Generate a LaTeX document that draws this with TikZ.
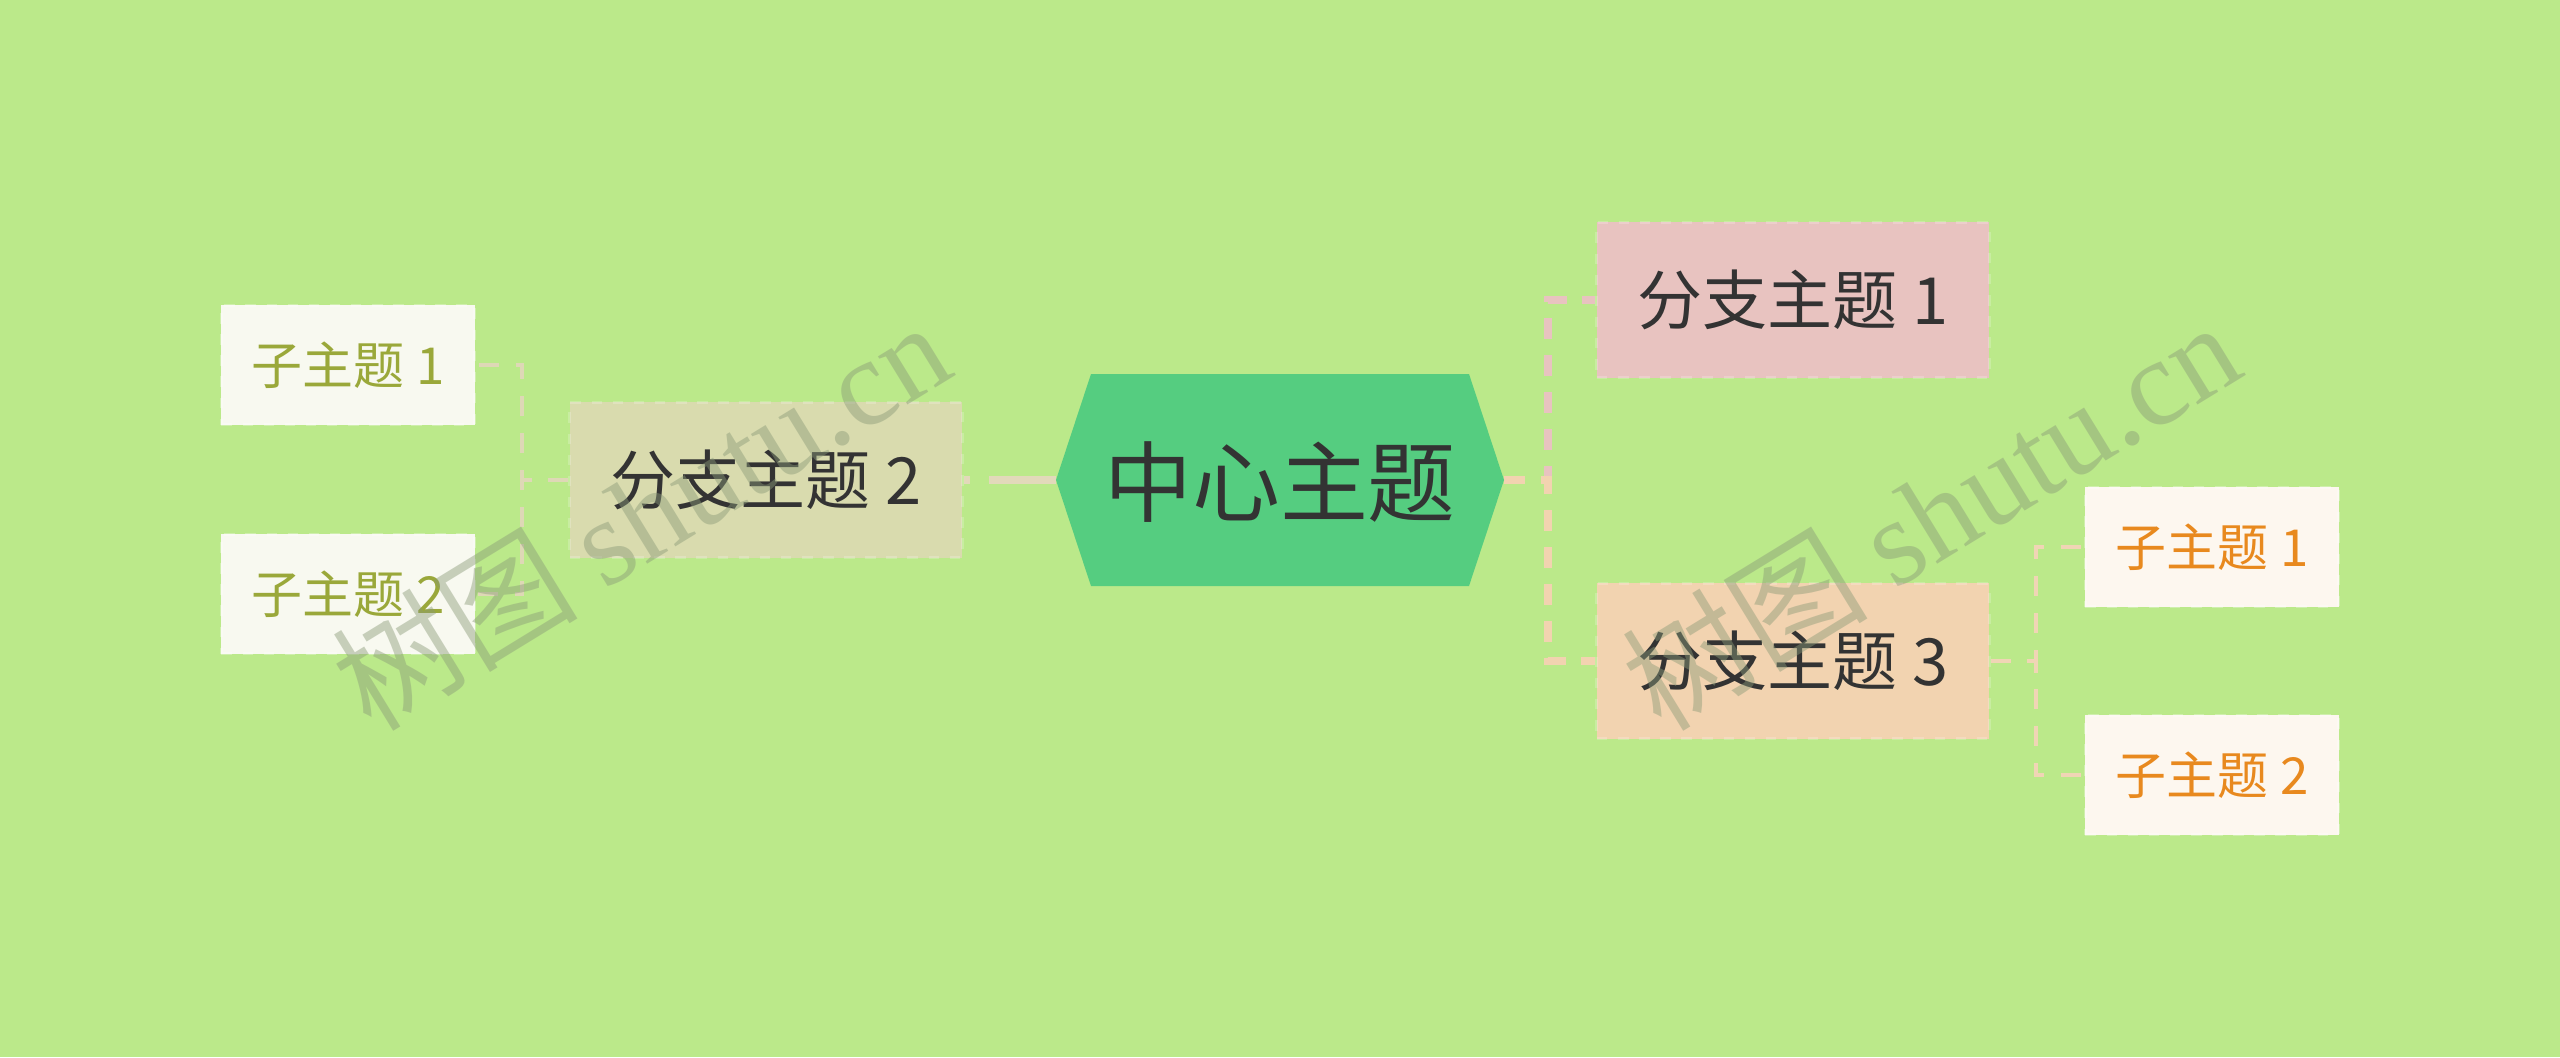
\documentclass[tikz,border=0pt]{standalone}
\usepackage{fontspec}
\setmainfont{Noto Sans CJK SC}
\newfontfamily\wmlatin{Liberation Serif}
\newfontfamily\wmcjk{Noto Sans CJK SC}
\definecolor{bg}{HTML}{BBE98A}
\definecolor{hexc}{HTML}{55CD80}
\definecolor{bonec}{HTML}{E8C3C0}
\definecolor{btwoc}{HTML}{D9DBAE}
\definecolor{bthreec}{HTML}{F2D3B0}
\definecolor{lsubc}{HTML}{F8F9F0}
\definecolor{rsubc}{HTML}{FDF7EF}
\definecolor{ltext}{HTML}{9AA83A}
\definecolor{rtext}{HTML}{E8891E}
\definecolor{dtext}{HTML}{333333}
\definecolor{lconn}{HTML}{DED8B6}
\definecolor{rconn}{HTML}{F0D5B5}
\definecolor{cconn}{HTML}{E2D9BA}
\definecolor{wmc}{HTML}{8A9A78}
\begin{document}
\begin{tikzpicture}[x=0.01cm,y=-0.01cm,
  branchbox/.style={rectangle, inner sep=0pt, minimum width=3.92cm, minimum height=1.55cm,
    text=dtext, font=\fontsize{18.5}{22}\selectfont, draw=white, draw opacity=0.2, dashed, line width=0.8pt},
  subbox/.style={rectangle, inner sep=0pt, minimum width=2.53cm, minimum height=1.19cm,
    font=\fontsize{14.5}{17}\selectfont, draw=white, draw opacity=0.3, dashed, line width=0.8pt},
  mainconn/.style={line width=2.2pt, dash pattern=on 6pt off 4.5pt},
  subconn/.style={line width=1.1pt, dash pattern=on 5.7pt off 4.8pt},
  wm/.style={text=wmc, opacity=0.45, rotate=31.5, font=\fontsize{35}{40}\selectfont}
]
\useasboundingbox (0,0) rectangle (2560,1057);
\fill[bg] (0,0) rectangle (2560,1057);

% central hexagon
\coordinate (hexL) at (1056,480);
\coordinate (hexR) at (1504,480);

% connectors center (drawn below the shapes)
\coordinate (jr) at (1548,480);
\node[branchbox, fill=bonec] (b1) at (1793,300) {分支主题 1};
\node[branchbox, fill=bthreec] (b3) at (1793,661) {分支主题 3};
\node[branchbox, fill=btwoc] (b2) at (766,480) {分支主题 2};

\draw[mainconn, draw=bonec] (hexR) -- (jr) -- (jr |- b1.west) -- (b1.west);
\draw[mainconn, draw=bthreec] (hexR) -- (jr) -- (jr |- b3.west) -- (b3.west);
\draw[line width=2.2pt, dash pattern=on 19pt off 5.4pt, draw=cconn] (hexL) -- (b2.east);

\fill[hexc] (hexL) -- (1091,374) -- (1469,374) -- (hexR) -- (1469,586) -- (1091,586) -- cycle;
\node[text=dtext, font=\fontsize{25}{30}\selectfont] (c) at (1280,482) {中心主题};

% sub topics
\node[subbox, fill=lsubc, text=ltext] (ls1) at (348,365) {子主题 1};
\node[subbox, fill=lsubc, text=ltext] (ls2) at (348,594) {子主题 2};
\node[subbox, fill=rsubc, text=rtext] (rs1) at (2212,547) {子主题 1};
\node[subbox, fill=rsubc, text=rtext] (rs2) at (2212,775) {子主题 2};

% left sub connectors
\coordinate (jl) at (522,480);
\draw[subconn, draw=lconn] (b2.west) -- (jl) -- (jl |- ls1.east) -- (ls1.east);
\draw[subconn, draw=lconn] (b2.west) -- (jl) -- (jl |- ls2.east) -- (ls2.east);

% right sub connectors
\coordinate (jr2) at (2036,661);
\draw[subconn, draw=rconn] (b3.east) -- (jr2) -- (jr2 |- rs1.west) -- (rs1.west);
\draw[subconn, draw=rconn] (b3.east) -- (jr2) -- (jr2 |- rs2.west) -- (rs2.west);

% watermarks
\node[wm] (wm1) at (640,514) {\wmcjk 树图\ \wmlatin shutu.cn};
\node[wm] (wm2) at (1930,514) {\wmcjk 树图\ \wmlatin shutu.cn};
\end{tikzpicture}
\end{document}
